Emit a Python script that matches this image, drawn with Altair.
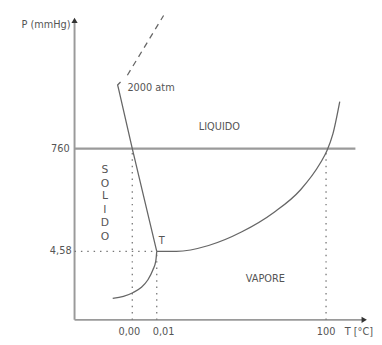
import altair as alt
import pandas as pd

# Schematic phase diagram of water (coordinates in diagram units, origin at axes corner)
fusion_x = [47, 44, 45, 59, 84]
fusion_y = [243, 240, 236, 175, 70]
fusion_dash_x = [54, 91]
fusion_dash_y = [250, 311]
sublim_x = [39, 50, 60, 68, 75, 80, 83, 84]
sublim_y = [22, 24, 28, 33, 41, 51, 60, 70]
vapor_x = [84, 104, 137, 171, 204, 231, 251, 258, 264, 271]
vapor_y = [70, 70, 76, 90, 110, 133, 160, 173, 190, 223]

p760 = 175
p458 = 70
t000 = 59
t001 = 84
t100 = 257

xs = alt.Scale(domain=[-68, 306], nice=False, zero=False)
ys = alt.Scale(domain=[-22, 315], nice=False, zero=False)
GRAY = "#555555"
LGRAY = "#9a9a9a"
FONT = "DejaVu Sans"


def seg(xv, yv, name):
    return pd.DataFrame({"x": xv, "y": yv, "o": list(range(len(xv))), "g": name})


def line_layer(df, color, width, dash=None, interp="linear"):
    kw = dict(color=color, strokeWidth=width, clip=False, interpolate=interp)
    if dash:
        kw["strokeDash"] = dash
    return alt.Chart(df).mark_line(**kw).encode(
        x=alt.X("x:Q", scale=xs, axis=None),
        y=alt.Y("y:Q", scale=ys, axis=None),
        order="o:Q",
        detail="g:N",
    )


axes_df = pd.concat([
    seg([0, 0], [0, 305], "yaxis"),
    seg([0, 296], [0, 0], "xaxis"),
])
line760 = seg([0, 287], [p760, p760], "760")
dotted_df = pd.concat([
    seg([0, t001], [p458, p458], "h458"),
    seg([t000, t000], [0, p760], "v000"),
    seg([t001, t001], [0, p458], "v001"),
    seg([t100, t100], [0, p760], "v100"),
])
fusion_df = seg(fusion_x, fusion_y, "fusion")
smooth_df = pd.concat([
    seg(sublim_x, sublim_y, "sublim"),
    seg(vapor_x, vapor_y, "vapor"),
])
dash_df = seg(fusion_dash_x, fusion_dash_y, "dash")

arrows = pd.DataFrame({"x": [0, 296], "y": [306, 0], "shape": ["triangle-up", "triangle-right"]})
arrow_layer = alt.Chart(arrows).mark_point(filled=True, size=40, color="#333333", opacity=1, clip=False).encode(
    x=alt.X("x:Q", scale=xs, axis=None),
    y=alt.Y("y:Q", scale=ys, axis=None),
    shape=alt.Shape("shape:N", scale=None),
)

labels_left = pd.DataFrame({"x": [-4, -5, -3], "y": [301, p760, p458], "t": ["P (mmHg)", "760", "4,58"]})
labels_bottom = pd.DataFrame({"x": [t000 - 3, t001 + 7, t100], "y": [-12, -12, -12], "t": ["0,00", "0,01", "100"]})
labels_free = pd.DataFrame({
    "x": [54, 148, 195, 86, 276],
    "y": [237, 197, 42, 81, -12],
    "t": ["2000 atm", "LIQUIDO", "VAPORE", "T", "T [°C]"],
    "a": ["left", "center", "center", "left", "left"],
})
solido = pd.DataFrame({"x": [31] * 6, "y": [153, 139, 126, 112, 99, 85], "t": list("SOLIDO")})


def text_layer(df, align, size=10):
    return alt.Chart(df).mark_text(align=align, baseline="middle", fontSize=size,
                                   font=FONT, color=GRAY, clip=False).encode(
        x=alt.X("x:Q", scale=xs, axis=None),
        y=alt.Y("y:Q", scale=ys, axis=None),
        text="t:N",
    )


free_layers = [text_layer(labels_free[labels_free.a == a], a) for a in ["left", "center"]]

chart = alt.layer(
    line_layer(axes_df, LGRAY, 2),
    line_layer(line760, LGRAY, 2.2),
    line_layer(dotted_df, "#777777", 1.3, [1.5, 5]),
    line_layer(fusion_df, "#666666", 1.3),
    line_layer(smooth_df, "#666666", 1.3, interp="monotone"),
    line_layer(dash_df, "#666666", 1.3, [6, 5]),
    arrow_layer,
    text_layer(labels_left, "right"),
    text_layer(labels_bottom, "center"),
    *free_layers,
    text_layer(solido, "center", 11),
).properties(
    width=374, height=337, padding=0, autosize=alt.AutoSizeParams(type="none")
).configure_view(stroke=None)

chart.save("out.html", embed_options={"renderer": "svg", "actions": False})
